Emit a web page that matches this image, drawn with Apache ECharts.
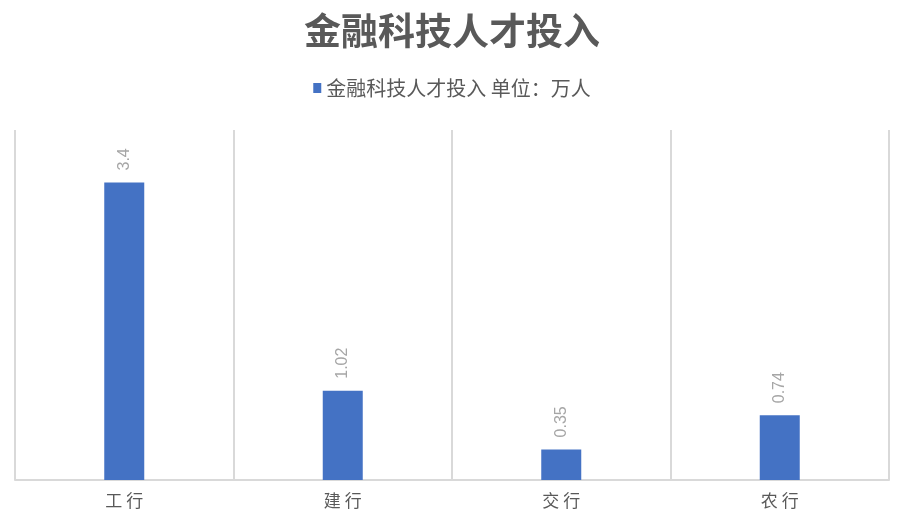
<!DOCTYPE html>
<html>
<head>
<meta charset="utf-8">
<script src="https://cdn.jsdelivr.net/npm/echarts@6/dist/echarts.min.js"></script>
<style>
html,body{margin:0;padding:0;background:#fff;}
#main{width:904px;height:526px;}
</style>
</head>
<body>
<div id="main"></div>
<script>
// 数据
var titleText = '金融科技人才投入';
var seriesName = '金融科技人才投入 单位：万人';
var banks = ['工行', '建行', '交行', '农行'];
var talent = [3.4, 1.02, 0.35, 0.74];

var myChart = echarts.init(document.getElementById('main'));
var option = {
	backgroundColor: '#fff',
	title: {
		text: titleText,
		left: 'center',
		top: 7,
		textStyle: {
			fontFamily: 'Noto Sans CJK SC',
			fontSize: 37,
			fontWeight: 'bold',
			color: '#595959'
		}
	},
	legend: {
		data: [seriesName],
		top: 73,
		left: 'center',
		icon: 'rect',
		itemWidth: 8,
		itemHeight: 10,
		itemGap: 4,
		textStyle: {
			fontFamily: 'Noto Sans CJK SC',
			fontSize: 20,
			color: '#595959'
		}
	},
	grid: {
		left: 15,
		right: 15,
		top: 130,
		bottom: 46,
		containLabel: false
	},
	xAxis: {
		type: 'category',
		data: banks,
		axisTick: { show: false },
		axisLine: {
			lineStyle: { color: '#d9d9d9', width: 2 }
		},
		splitLine: {
			show: true,
			lineStyle: { color: '#d9d9d9', width: 2 }
		},
		axisLabel: {
			margin: 12,
			fontFamily: 'Noto Sans CJK SC',
			fontSize: 17,
			color: '#595959',
			formatter: function (v) { return v.split('').join(' '); }
		}
	},
	yAxis: {
		type: 'value',
		min: 0,
		max: 4,
		show: false,
		splitLine: { show: false }
	},
	series: [{
		name: seriesName,
		type: 'bar',
		data: talent,
		barWidth: 40,
		itemStyle: { color: '#4472c4' },
		label: {
			show: true,
			position: 'top',
			rotate: 90,
			align: 'left',
			verticalAlign: 'middle',
			distance: 12,
			fontFamily: 'Liberation Sans',
			fontSize: 16,
			color: '#a6a6a6'
		}
	}]
};
myChart.setOption(option);
</script>
</body>
</html>
